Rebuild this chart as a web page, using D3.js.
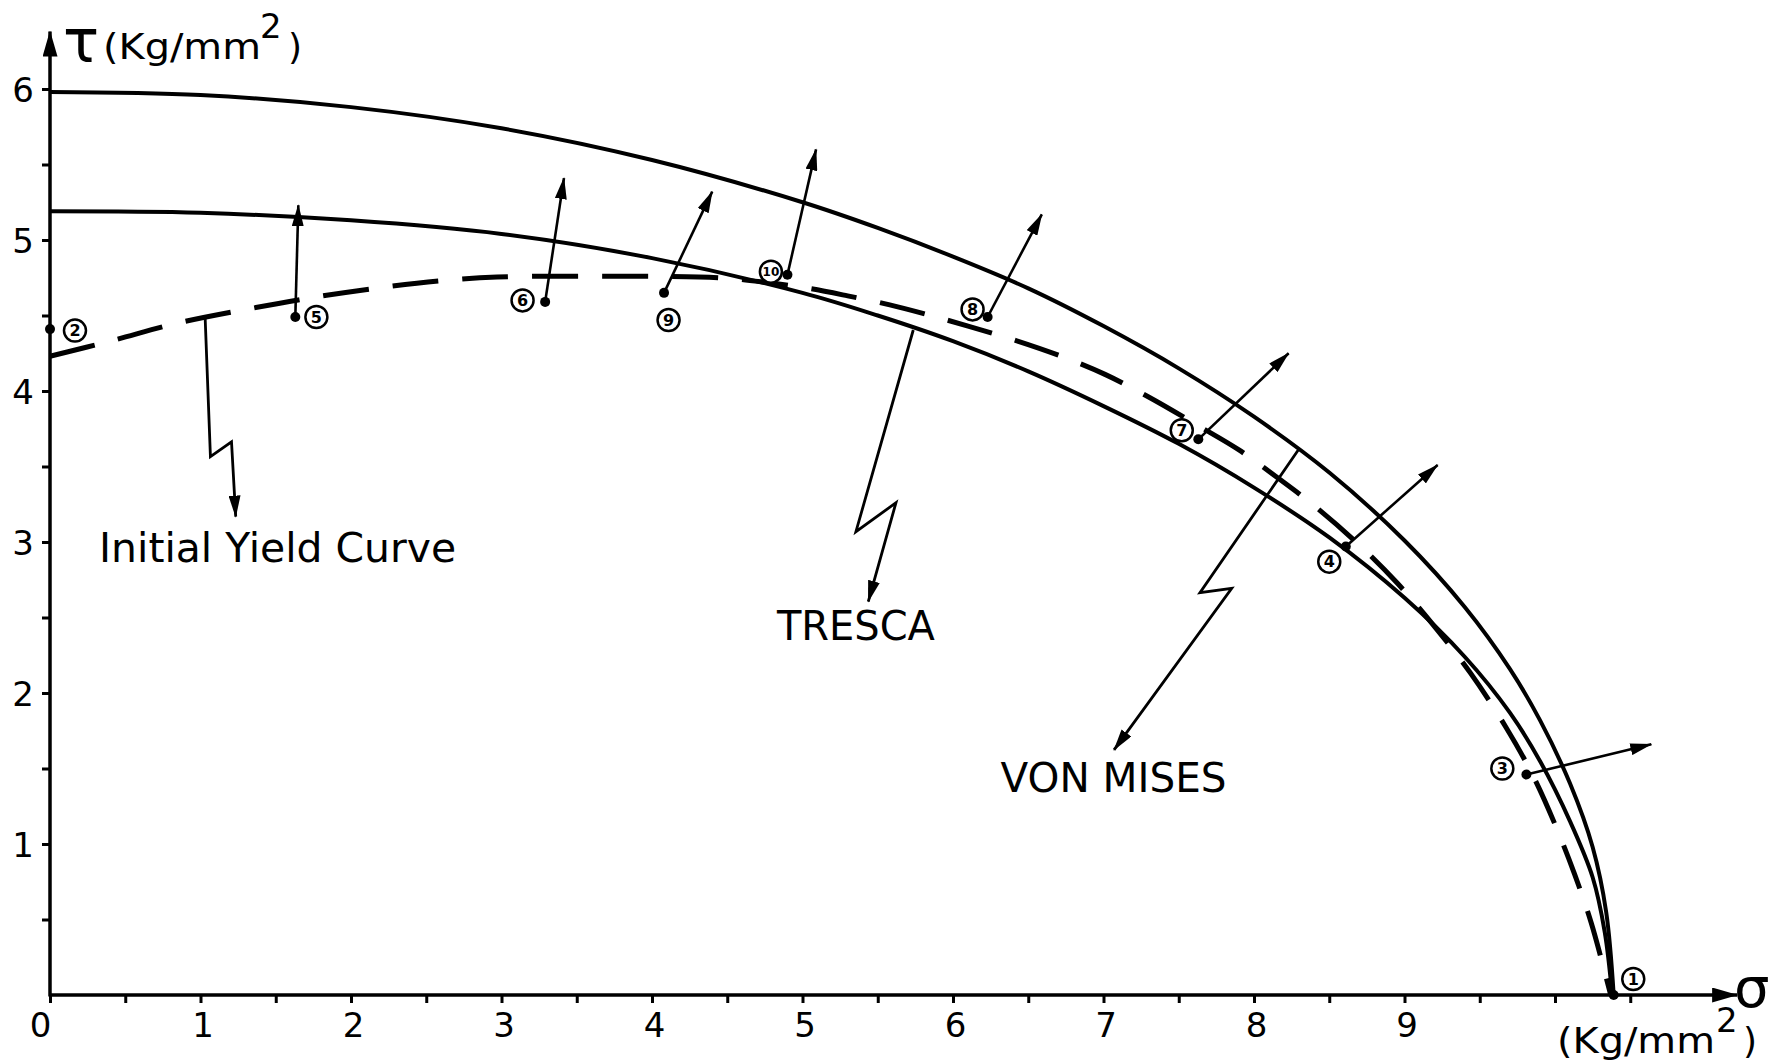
<!DOCTYPE html>
<html><head><meta charset="utf-8">
<script src="https://cdn.jsdelivr.net/npm/d3@7"></script>
<style>
html,body{margin:0;padding:0;background:#fff}
svg{display:block}
text{font-family:"DejaVu Sans",sans-serif;fill:#000}
</style>
</head><body>
<svg id="chart" width="1789" height="1062"></svg>
<script>
// ---------------- DATA (σ, τ in Kg/mm²) ----------------
const xTickValues = [0,0.5,1,1.5,2,2.5,3,3.5,4,4.5,5,5.5,6,6.5,7,7.5,8,8.5,9,9.5,10,10.5];
const xLabelValues = [0,1,2,3,4,5,6,7,8,9];
const xTickLabels = ["0","1","2","3","4","5","6","7","8","9"];
const yTickValues = [0.5,1,1.5,2,2.5,3,3.5,4,4.5,5,5.5,6];
const yLabelValues = [1,2,3,4,5,6];
const yTickLabels = ["1","2","3","4","5","6"];

// outer solid curve (von Mises)
const vonMises = [[0,5.98],[1,5.96],[2,5.88],[3,5.74],[4,5.53],[5,5.25],[5.5,5.08],[6,4.89],[6.5,4.68],
  [7,4.43],[7.5,4.15],[8,3.83],[8.5,3.46],[9,3.01],[9.4,2.57],[9.7,2.16],[9.9,1.82],[10.1,1.40],
  [10.25,0.98],[10.34,0.55],[10.39,0]];
// inner solid curve (Tresca)
const tresca = [[0,5.19],[1,5.18],[2,5.13],[3,5.04],[4,4.88],[5,4.65],[5.5,4.50],[6,4.33],[6.5,4.13],
  [7,3.90],[7.5,3.65],[8,3.36],[8.5,3.03],[9,2.63],[9.4,2.24],[9.7,1.87],[9.9,1.55],[10.1,1.15],
  [10.25,0.78],[10.33,0.42],[10.38,0]];
// dashed initial yield curve
const initialYield = [[0,4.23],[0.40,4.33],[0.85,4.45],[1.30,4.54],[1.75,4.62],[2.2,4.685],[2.6,4.73],[2.97,4.755],
  [3.5,4.76],[4.0,4.76],[4.45,4.75],[4.75,4.72],[5.04,4.68],[5.30,4.63],[5.58,4.57],[5.85,4.50],[6.10,4.43],
  [6.40,4.34],[6.72,4.23],[7.01,4.11],[7.30,3.96],[7.63,3.77],[7.90,3.61],[8.15,3.43],[8.40,3.24],[8.70,2.98],
  [8.95,2.73],[9.20,2.44],[9.44,2.13],[9.67,1.78],[9.85,1.46],[10.0,1.13],[10.13,0.80],[10.24,0.48],[10.37,0]];

// experimental points
const pointIds   = ["1","2","3","4","5","6","7","8","9","10"];
const pointSigma = [10.39, 0.00, 9.81, 8.61, 1.63, 3.29, 7.63, 6.23, 4.08, 4.90];
const pointTau   = [0.00, 4.41, 1.46, 2.97, 4.49, 4.59, 3.68, 4.49, 4.65, 4.77];
// loading-direction arrow tips (null = no arrow)
const arrowTipSigma = [null, null, 10.64, 9.22, 1.65, 3.415, 8.23, 6.59, 4.40, 5.09];
const arrowTipTau   = [null, null, 1.66, 3.51, 5.23, 5.41, 4.25, 5.17, 5.32, 5.60];
// circled label anchors
const labelSigma = [10.52, 0.166, 9.65, 8.50, 1.77, 3.14, 7.52, 6.13, 4.11, 4.79];
const labelTau   = [0.106, 4.40, 1.50, 2.87, 4.49, 4.60, 3.74, 4.54, 4.47, 4.79];

// annotations
const annotationTexts = ["Initial Yield Curve", "TRESCA", "VON MISES"];
const annotationSigma = [0.326, 4.83, 6.316];
const annotationTau   = [2.868, 2.35, 1.344];
const leaderInitial = [[1.031,4.481],[1.066,3.565],[1.206,3.664],[1.234,3.168]];
const leaderTresca  = [[5.736,4.404],[5.355,3.068],[5.621,3.26],[5.437,2.605]];
const leaderMises   = [[8.294,3.609],[7.641,2.664],[7.852,2.693],[7.07,1.623]];
const axisSigmaEnd = 11.21, axisTauEnd = 6.38;

// ---------------- DRAWING ----------------
const svg = d3.select('#chart');
svg.append('rect').attr('width',1789).attr('height',1062).attr('fill','#fff');
const x = d3.scaleLinear().domain([0,10]).range([50,1555]);
const y = d3.scaleLinear().domain([0,6]).range([995,89]);

const defs = svg.append('defs');
function marker(id, len, wid){
  defs.append('marker').attr('id',id).attr('markerUnits','userSpaceOnUse')
    .attr('markerWidth',len).attr('markerHeight',wid).attr('refX',len-1).attr('refY',wid/2)
    .attr('orient','auto').attr('viewBox',`0 0 ${len} ${wid}`)
    .append('path').attr('d',`M0,0L${len},${wid/2}L0,${wid}Z`).attr('fill','#000');
}
marker('arrow',22,12);
marker('axisArrow',26,15);

// axes
const xAxis = d3.axisBottom(x).tickValues(xTickValues).tickSize(8)
  .tickFormat(d => { const i = xLabelValues.indexOf(d); return i >= 0 ? xTickLabels[i] : ''; });
const gx = svg.append('g').attr('transform',`translate(0,${y(0)})`).call(xAxis);
gx.select('.domain').remove();
gx.selectAll('.tick line').attr('stroke','#000').attr('stroke-width',3);
gx.selectAll('.tick text').attr('font-size',34).attr('fill','#000')
  .attr('font-family','"DejaVu Sans",sans-serif')
  .attr('dy',0).attr('y',42).attr('x', d => d === 0 ? -10 : 2);

const yAxis = d3.axisLeft(y).tickValues(yTickValues).tickSize(8).tickPadding(8)
  .tickFormat(d => { const i = yLabelValues.indexOf(d); return i >= 0 ? yTickLabels[i] : ''; });
const gy = svg.append('g').attr('transform',`translate(${x(0)},0)`).call(yAxis);
gy.select('.domain').remove();
gy.selectAll('.tick line').attr('stroke','#000').attr('stroke-width',3);
gy.selectAll('.tick text').attr('font-size',34).attr('fill','#000')
  .attr('font-family','"DejaVu Sans",sans-serif').attr('dy','0.36em');

svg.append('line').attr('x1',x(0)).attr('y1',y(0)).attr('x2',x(axisSigmaEnd)).attr('y2',y(0))
  .attr('stroke','#000').attr('stroke-width',3.5).attr('marker-end','url(#axisArrow)');
svg.append('line').attr('x1',x(0)).attr('y1',y(0)+1.5).attr('x2',x(0)).attr('y2',y(axisTauEnd))
  .attr('stroke','#000').attr('stroke-width',3.5).attr('marker-end','url(#axisArrow)');

// axis titles
svg.append('text').attr('x',63).attr('y',62).attr('font-size',60).text('τ');
svg.append('text').attr('x',103).attr('y',59).attr('font-size',36)
  .attr('textLength',158).attr('lengthAdjust','spacingAndGlyphs').text('(Kg/mm');
svg.append('text').attr('x',260).attr('y',38).attr('font-size',34).text('2');
svg.append('text').attr('x',288).attr('y',59).attr('font-size',36).text(')');

svg.append('text').attr('x',1734).attr('y',1007).attr('font-size',56).text('σ');
svg.append('text').attr('x',1557).attr('y',1053).attr('font-size',36)
  .attr('textLength',158).attr('lengthAdjust','spacingAndGlyphs').text('(Kg/mm');
svg.append('text').attr('x',1716).attr('y',1032).attr('font-size',34).text('2');
svg.append('text').attr('x',1743).attr('y',1053).attr('font-size',36).text(')');

// curves
const line = d3.line().x(d => x(d[0])).y(d => y(d[1])).curve(d3.curveCatmullRom.alpha(0.5));
svg.append('path').attr('d',line(vonMises)).attr('fill','none').attr('stroke','#000').attr('stroke-width',4);
svg.append('path').attr('d',line(tresca)).attr('fill','none').attr('stroke','#000').attr('stroke-width',4);
svg.append('path').attr('d',line(initialYield)).attr('fill','none').attr('stroke','#000')
  .attr('stroke-width',5).attr('stroke-dasharray','46,24');

// leaders
const straight = d3.line().x(d => x(d[0])).y(d => y(d[1]));
[leaderInitial, leaderTresca, leaderMises].forEach(pts => {
  svg.append('path').attr('d',straight(pts)).attr('fill','none').attr('stroke','#000')
    .attr('stroke-width',2.8).attr('stroke-linejoin','miter').attr('marker-end','url(#arrow)');
});

// annotation texts
const annWidths = [357, 158, 226];
const annSizes = [41, 40, 40];
annotationTexts.forEach((t,i) => {
  svg.append('text').attr('x',x(annotationSigma[i])).attr('y',y(annotationTau[i]))
    .attr('font-size',annSizes[i]).attr('textLength',annWidths[i]).attr('lengthAdjust','spacingAndGlyphs').text(t);
});

// loading arrows
pointIds.forEach((id,i) => {
  if (arrowTipSigma[i] === null) return;
  svg.append('line').attr('x1',x(pointSigma[i])).attr('y1',y(pointTau[i]))
    .attr('x2',x(arrowTipSigma[i])).attr('y2',y(arrowTipTau[i]))
    .attr('stroke','#000').attr('stroke-width',2.6).attr('marker-end','url(#arrow)');
});

// points
pointIds.forEach((id,i) => {
  svg.append('circle').attr('cx',x(pointSigma[i])).attr('cy',y(pointTau[i])).attr('r',5).attr('fill','#000');
  const g = svg.append('g').attr('transform',`translate(${x(labelSigma[i])},${y(labelTau[i])})`);
  g.append('circle').attr('r',11).attr('fill','#fff').attr('stroke','#000').attr('stroke-width',2.5);
  g.append('text').attr('text-anchor','middle').attr('dy','0.36em')
    .attr('font-size', id.length > 1 ? 12 : 16).attr('font-weight','bold').text(id);
});
</script>
</body></html>
